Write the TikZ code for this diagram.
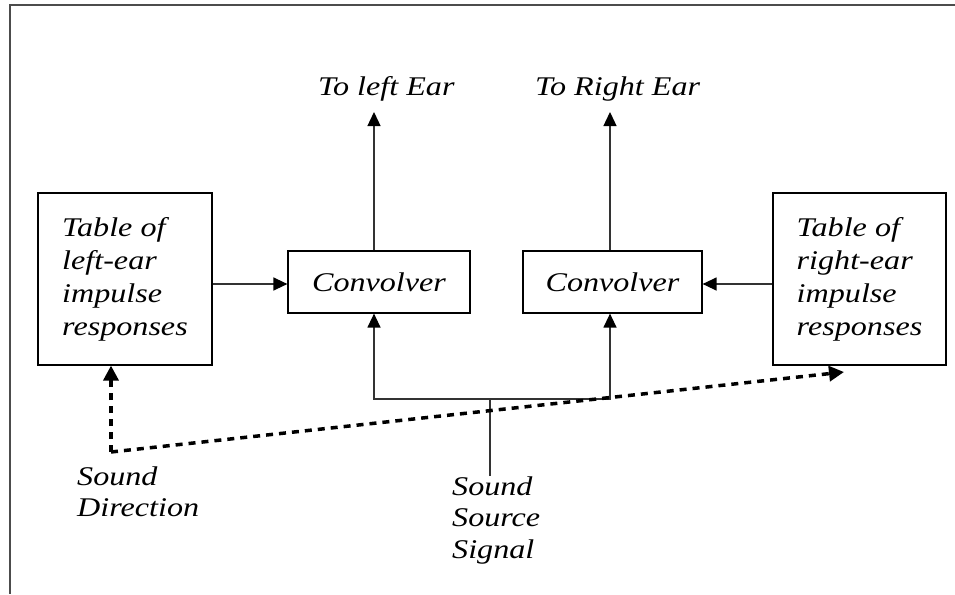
\documentclass[tikz,border=0pt]{standalone}
\usepackage{fontspec}
\setmainfont{Liberation Serif}[FakeStretch=1.19]
\usetikzlibrary{arrows.meta}

\begin{document}
\begin{tikzpicture}[x=1pt,y=-1pt,
  every node/.style={font=\fontsize{27}{33}\selectfont\itshape},
  box/.style={draw=black, line width=1.2pt, inner sep=0pt},
  conn/.style={draw=black!80, line width=1.3pt},
  arr/.style={conn, -{Triangle[length=14pt,width=13pt,color=black]}},
  dir/.style={draw=black, line width=3.5pt, dash pattern=on 7pt off 6pt, -{Triangle[length=15pt,width=15pt]}},
  lbl/.style={inner sep=0pt, align=left}
]
\useasboundingbox (0,0) rectangle (955,594);
\draw[line width=2pt, black!70] (955,5) -- (10,5) -- (10,594);

\node[box, minimum width=174pt, minimum height=172pt, align=left] (lt) at (125,279) {Table of\\left-ear\\impulse\\responses};
\node[box, minimum width=173pt, minimum height=172pt, align=left] (rt) at (859.5,279) {Table of\\right-ear\\impulse\\responses};
\node[box, minimum width=182pt, minimum height=62pt] (lc) at (379,282) {Convolver};
\node[box, minimum width=179pt, minimum height=62pt] (rc) at (612.5,282) {Convolver};

\coordinate (ly) at (0,284);
\draw[arr] (lt.east |- ly) -- (lc.west |- ly);
\draw[arr] (rt.west |- ly) -- (rc.east |- ly);

\coordinate (lx) at (374,0);
\coordinate (rx) at (610,0);
\coordinate (topend) at (0,112);
\node[lbl, anchor=base west] (tl) at (318,95) {To left Ear};
\node[lbl, anchor=base west] (tr) at (535,95) {To Right Ear};
\draw[arr] (lc.north -| lx) -- (lx |- topend);
\draw[arr] (rc.north -| rx) -- (rx |- topend);

\coordinate (bus) at (490,399);
\node[lbl, anchor=base west, font=\fontsize{27}{31.5}\selectfont\itshape] (ss) at (452,558) {Sound\\Source\\Signal};
\draw[conn] (ss.north -| bus) -- (bus);
\draw[arr] (bus) -- (bus -| lx) -- (lc.south -| lx);
\draw[arr] (bus) -- (bus -| rx) -- (rc.south -| rx);

\coordinate (dc) at (111,452);
\coordinate (dend) at (844,372);
\draw[dir] (dc) -- (lt.south -| dc);
\draw[dir] (dc) -- (dend);

\node[lbl, anchor=base west, font=\fontsize{27}{30.5}\selectfont\itshape] (sd) at (77,516) {Sound\\Direction};
\end{tikzpicture}
\end{document}
